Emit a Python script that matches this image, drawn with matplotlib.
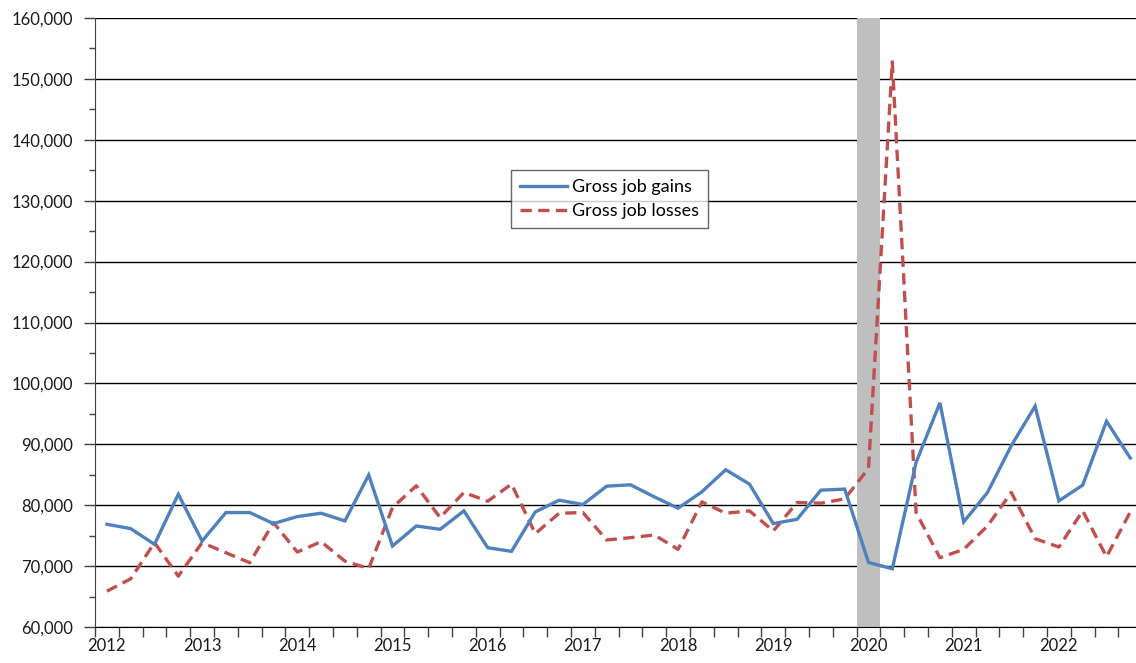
import matplotlib
matplotlib.use("Agg")
import matplotlib.pyplot as plt
from matplotlib.ticker import FuncFormatter, MultipleLocator, FixedLocator

plt.rcParams['font.family'] = ['Lato', 'DejaVu Sans']

years = list(range(2012, 2023))
quarters = [f"{y}Q{q}" for y in years for q in range(1, 5)]

gross_job_gains = [
    76870, 76150, 73570, 81800,
    74120, 78790, 78790, 76980,
    78130, 78680, 77420, 84950,
    73300, 76590, 76040, 79070,
    73020, 72420, 78900, 80820,
    80110, 83130, 83350, 81370,
    79510, 82200, 85820, 83460,
    76980, 77690, 82470, 82640,
    70600, 69560, 87030, 96810,
    77250, 82090, 89780, 96260,
    80710, 83300, 93790, 87750,
]

gross_job_losses = [
    65880, 67910, 73850, 68350,
    73850, 72200, 70550, 77140,
    72310, 74010, 70820, 69610,
    79620, 83190, 77970, 82090,
    80650, 83460, 75330, 78680,
    78790, 74290, 74670, 75110,
    72750, 80550, 78680, 79070,
    75770, 80440, 80330, 81040,
    86040, 152800, 78790, 71370,
    72750, 76590, 82090, 74510,
    73130, 79070, 71540, 78900,
]

recession_quarters = ["2020Q1"]

blue = "#4F81BD"
red = "#C0504D"

fig = plt.figure(figsize=(11.36, 6.63), dpi=100)
n = len(quarters)
ax = fig.add_axes([95 / 1136, 36 / 663, n * 23.8 / 1136, 609 / 663])

x = list(range(n))

# recession shading
for rq in recession_quarters:
    i = quarters.index(rq)
    ax.axvspan(i - 0.5, i + 0.5, color="#BFBFBF", zorder=2, lw=0)

ax.plot(x, gross_job_gains, color=blue, lw=2.4, label="Gross job gains",
        zorder=4, solid_joinstyle="miter")
ax.plot(x, gross_job_losses, color=red, lw=2.4, ls=(0, (3.4, 1.9)),
        label="Gross job losses", zorder=3)

ax.set_xlim(-0.5, n - 0.5)
ax.set_ylim(60000, 160000)

# y axis
ax.yaxis.set_major_locator(MultipleLocator(10000))
ax.yaxis.set_minor_locator(MultipleLocator(5000))
ax.yaxis.set_major_formatter(FuncFormatter(lambda v, p: f"{int(v):,}"))
ax.tick_params(axis="y", which="major", length=8, width=1.0, color="#404040",
               labelsize=12, labelcolor="#1a1a1a", pad=8)
ax.tick_params(axis="y", which="minor", length=4.5, width=1.0, color="#404040")
ax.grid(axis="y", which="major", color="black", lw=1.0, zorder=1)

# x axis: ticks between quarters, year labels under each first quarter
ax.xaxis.set_major_locator(FixedLocator([i - 0.5 for i in range(n + 1)]))
ax.xaxis.set_major_formatter(FuncFormatter(lambda v, p: ""))
ax.xaxis.set_minor_locator(FixedLocator([quarters.index(f"{y}Q1") for y in years]))
ax.set_xticklabels([str(y) for y in years], minor=True)
ax.tick_params(axis="x", which="major", length=7, width=1.0, color="#404040")
ax.tick_params(axis="x", which="minor", length=0, labelsize=12,
               labelcolor="#1a1a1a", pad=8)

for s in ["top", "right"]:
    ax.spines[s].set_visible(False)
ax.spines["left"].set_color("#404040")
ax.spines["bottom"].set_color("black")
ax.set_axisbelow(True)

leg = ax.legend(loc="upper left", bbox_to_anchor=((511 - 95) / (n * 23.8), (627 - 170) / 609),
                frameon=True, fancybox=False, edgecolor="#404040", fontsize=13,
                handlelength=2.6, borderpad=0.5, labelspacing=0.45, handletextpad=0.3,
                borderaxespad=0)
leg.get_frame().set_linewidth(1.0)
leg.set_zorder(6)

fig.savefig("out.png", dpi=100)
